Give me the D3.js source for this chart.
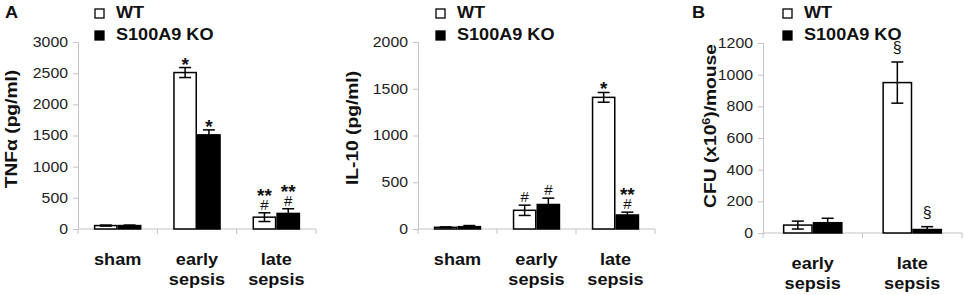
<!DOCTYPE html>
<html>
<head>
<meta charset="utf-8">
<script src="https://cdn.jsdelivr.net/npm/d3@7"></script>
<style>
  body { margin: 0; background: #fff; }
  svg { display: block; font-family: Arial, "Liberation Sans", sans-serif; }
  .axis-line { stroke: #c4c4c4; stroke-width: 1; fill: none; }
  .tick-label { font-size: 14px; fill: #222; }
  .cat-label, .legend-label, .axis-title, .panel-letter { font-weight: bold; fill: #111; }
</style>
</head>
<body>
<svg id="chart"></svg>
<script>
// panel A, left: TNF-alpha
const tnfCategories = ["sham", "early sepsis", "late sepsis"];
const tnfWT = [55, 2510, 190];
const tnfWTErr = [8, 80, 70];
const tnfKO = [55, 1510, 250];
const tnfKOErr = [8, 80, 75];
const tnfWTMarks = [[], ["*"], ["**", "#"]];
const tnfKOMarks = [[], ["*"], ["**", "#"]];
const tnfTicks = [0, 500, 1000, 1500, 2000, 2500, 3000];

// panel A, right: IL-10
const il10Categories = ["sham", "early sepsis", "late sepsis"];
const il10WT = [18, 200, 1408];
const il10WTErr = [5, 55, 52];
const il10KO = [25, 262, 150];
const il10KOErr = [12, 68, 30];
const il10WTMarks = [[], ["#"], ["*"]];
const il10KOMarks = [[], ["#"], ["**", "#"]];
const il10Ticks = [0, 500, 1000, 1500, 2000];

// panel B: CFU
const cfuCategories = ["early sepsis", "late sepsis"];
const cfuWT = [50, 950];
const cfuWTErr = [25, 130];
const cfuKO = [65, 22];
const cfuKOErr = [28, 18];
const cfuWTMarks = [[], ["§"]];
const cfuKOMarks = [[], ["§"]];
const cfuTicks = [0, 200, 400, 600, 800, 1000, 1200];

const seriesNames = ["WT", "S100A9 KO"];

const width = 965;
const height = 295;
const stretch = 1.13; // source image text is a bit wide

const svg = d3.select("#chart").attr("width", width).attr("height", height);

function widen(sel, k) {
  sel.each(function () {
    const len = this.getComputedTextLength();
    d3.select(this)
      .attr("textLength", len * (k || stretch))
      .attr("lengthAdjust", "spacingAndGlyphs");
  });
}

function isStar(m) {
  return m.indexOf("*") >= 0;
}

function drawPanel(cfg) {
  const g = svg.append("g");
  const x = d3.scaleBand().domain(cfg.categories).range([cfg.left, cfg.right]);
  const y = d3.scaleLinear().domain([0, d3.max(cfg.ticks)]).range([cfg.y0, cfg.yTop]);
  const barW = x.bandwidth() * 0.3;

  // y axis
  const yAxis = g.append("g")
    .attr("transform", `translate(${cfg.left},0)`)
    .call(d3.axisLeft(y).tickValues(cfg.ticks).tickFormat(d3.format("d")).tickSize(5).tickPadding(5));
  yAxis.select(".domain").attr("class", "axis-line");
  yAxis.selectAll(".tick line").attr("stroke", "#c4c4c4");
  yAxis.selectAll(".tick text").attr("class", "tick-label").attr("font-family", null).attr("font-size", null);
  widen(yAxis.selectAll(".tick text"));
  yAxis.attr("font-family", null).attr("font-size", null);

  // x axis: baseline and band boundary ticks
  g.append("line").attr("class", "axis-line")
    .attr("x1", cfg.left).attr("x2", cfg.right)
    .attr("y1", y(0)).attr("y2", y(0));
  const bounds = cfg.categories.map((c) => x(c) + x.bandwidth());
  g.selectAll("line.xtick").data([cfg.left, ...bounds]).join("line")
    .attr("class", "axis-line")
    .attr("x1", (d) => d).attr("x2", (d) => d)
    .attr("y1", y(0)).attr("y2", y(0) + 5);

  // bars
  const series = [
    { vals: cfg.wt, err: cfg.wtErr, marks: cfg.wtMarks, fill: "#fff", off: -barW },
    { vals: cfg.ko, err: cfg.koErr, marks: cfg.koMarks, fill: "#000", off: 0 },
  ];
  series.forEach((s) => {
    const rows = cfg.categories.map((c, i) => ({
      cx: x(c) + x.bandwidth() / 2 + s.off,
      v: s.vals[i],
      e: s.err[i],
      marks: s.marks[i],
    }));
    g.selectAll(null).data(rows).join("rect")
      .attr("x", (d) => d.cx + 0.75)
      .attr("width", barW - 1.5)
      .attr("y", (d) => y(d.v))
      .attr("height", (d) => y(0) - y(d.v))
      .attr("fill", s.fill)
      .attr("stroke", "#000")
      .attr("stroke-width", 1.5);

    // error bars
    const eb = g.selectAll(null).data(rows).join("g")
      .attr("stroke", "#000").attr("stroke-width", 1.5);
    eb.append("line")
      .attr("x1", (d) => d.cx + barW / 2).attr("x2", (d) => d.cx + barW / 2)
      .attr("y1", (d) => y(d.v + d.e)).attr("y2", (d) => y(d.v - d.e));
    eb.append("line")
      .attr("x1", (d) => d.cx + barW / 2 - 6).attr("x2", (d) => d.cx + barW / 2 + 6)
      .attr("y1", (d) => y(d.v + d.e)).attr("y2", (d) => y(d.v + d.e));
    eb.append("line")
      .attr("x1", (d) => d.cx + barW / 2 - 6).attr("x2", (d) => d.cx + barW / 2 + 6)
      .attr("y1", (d) => y(d.v - d.e)).attr("y2", (d) => y(d.v - d.e));

    // significance marks, listed top to bottom, one text per bar
    rows.filter((d) => d.marks.length).forEach((d) => {
      const top = y(d.v + d.e);
      const cx = d.cx + barW / 2;
      const n = d.marks.length;
      const last = d.marks[n - 1];
      let by = last === "#" ? top - 3 : last === "§" ? top - 9 : top + 3;
      const baselines = [];
      for (let k = n - 1; k >= 0; k -= 1) {
        baselines[k] = by;
        by -= 8;
      }
      const t = g.append("text")
        .attr("text-anchor", "middle")
        .attr("fill", "#111");
      d.marks.forEach((m, k) => {
        t.append("tspan")
          .attr("x", cx)
          .attr("y", baselines[k])
          .attr("font-size", isStar(m) ? 19 : m === "#" ? 15 : 16)
          .attr("font-weight", isStar(m) ? "bold" : "normal")
          .text(m);
      });
    });
  });

  // category labels
  cfg.categories.forEach((c) => {
    c.split(" ").forEach((w, i) => {
      g.append("text")
        .attr("class", "cat-label")
        .attr("font-size", 16)
        .attr("text-anchor", "middle")
        .attr("x", x(c) + x.bandwidth() / 2)
        .attr("y", y(0) + 36 + i * 20)
        .text(w)
        .call(widen);
    });
  });

  // y title
  const title = g.append("text")
    .attr("class", "axis-title")
    .attr("font-size", 17)
    .attr("text-anchor", "middle")
    .attr("transform", `translate(${cfg.titleX},${cfg.titleY}) rotate(-90)`);
  cfg.title.forEach((part) => {
    const ts = title.append("tspan").text(part.t);
    if (part.sup) ts.attr("font-size", 11).attr("dy", -6);
    if (part.after) ts.attr("dy", 6);
  });
  widen(title);

  // legend
  seriesNames.forEach((name, i) => {
    g.append("rect")
      .attr("x", cfg.legendX)
      .attr("y", 9 + i * 22)
      .attr("width", 9)
      .attr("height", 9)
      .attr("fill", i === 0 ? "#fff" : "#000")
      .attr("stroke", "#000")
      .attr("stroke-width", 1.3);
    g.append("text")
      .attr("class", "legend-label")
      .attr("font-size", 16)
      .attr("x", cfg.legendX + 21)
      .attr("y", 18 + i * 22)
      .text(name)
      .call(widen);
  });

  if (cfg.letter) {
    g.append("text")
      .attr("class", "panel-letter")
      .attr("font-size", 16)
      .attr("x", cfg.letterX)
      .attr("y", 18)
      .text(cfg.letter)
      .call(widen);
  }
}

drawPanel({
  categories: tnfCategories, wt: tnfWT, wtErr: tnfWTErr, ko: tnfKO, koErr: tnfKOErr,
  wtMarks: tnfWTMarks, koMarks: tnfKOMarks, ticks: tnfTicks,
  left: 78, right: 316, y0: 229, yTop: 42,
  title: [{ t: "TNFα (pg/ml)" }], titleX: 17, titleY: 129,
  legendX: 95, letter: "A", letterX: 5,
});

drawPanel({
  categories: il10Categories, wt: il10WT, wtErr: il10WTErr, ko: il10KO, koErr: il10KOErr,
  wtMarks: il10WTMarks, koMarks: il10KOMarks, ticks: il10Ticks,
  left: 418, right: 655, y0: 229, yTop: 42,
  title: [{ t: "IL-10 (pg/ml)" }], titleX: 358, titleY: 128,
  legendX: 436,
});

drawPanel({
  categories: cfuCategories, wt: cfuWT, wtErr: cfuWTErr, ko: cfuKO, koErr: cfuKOErr,
  wtMarks: cfuWTMarks, koMarks: cfuKOMarks, ticks: cfuTicks,
  left: 763, right: 962, y0: 233, yTop: 43,
  title: [{ t: "CFU (x10" }, { t: "6", sup: true }, { t: ")/mouse", after: true }],
  titleX: 716, titleY: 126,
  legendX: 783, letter: "B", letterX: 692,
});
</script>
</body>
</html>
